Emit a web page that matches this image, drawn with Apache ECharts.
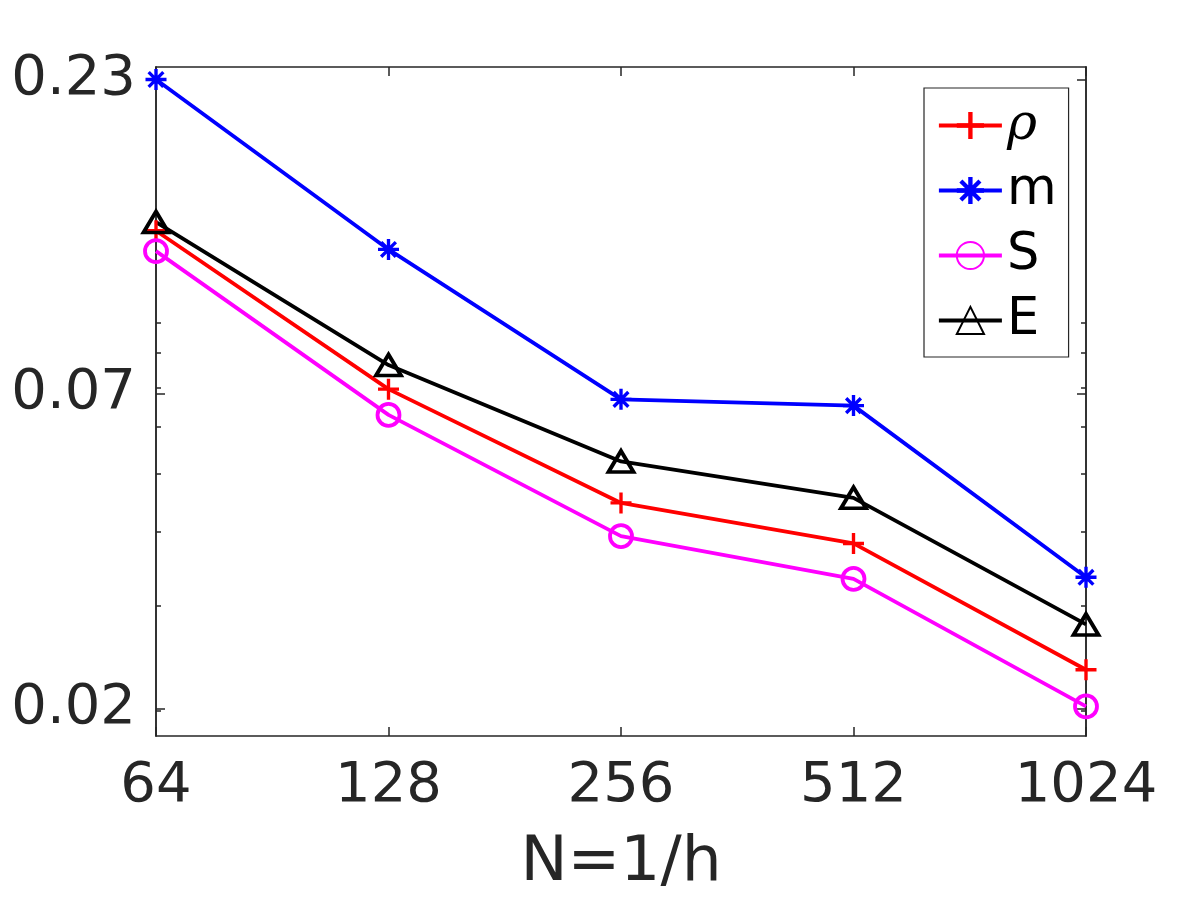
<!DOCTYPE html>
<html>
<head>
<meta charset="utf-8">
<title>error vs N</title>
<script src="https://cdn.jsdelivr.net/npm/echarts@6/dist/echarts.min.js"></script>
<style>
  html, body { margin: 0; padding: 0; background: #ffffff; }
  #chart { width: 1200px; height: 900px; }
</style>
</head>
<body>
<div id="chart"></div>
<script>
// grid sizes N = 1/h
var categories = ['64', '128', '256', '512', '1024'];

// errors
var rhoErr = [0.1285, 0.0695, 0.0447, 0.0382, 0.0234];
var mErr   = [0.2310, 0.1195, 0.0668, 0.0652, 0.0335];
var sErr   = [0.1187, 0.0629, 0.0393, 0.0333, 0.0203];
var eErr   = [0.1329, 0.0763, 0.0525, 0.0456, 0.0279];

// y ticks (log axis)
var yTicks = [0.02015, 0.0683, 0.231];
var yTickLabels = ['0.02', '0.07', '0.23'];
var yMinorTicks = [0.02, 0.03, 0.04, 0.05, 0.06, 0.07, 0.08, 0.09];
var yRange = [0.0181, 0.2425];

var axisColor = '#262626';
var font = 'DejaVu Sans';

// marker shapes, drawn as filled outlines
var plusPath = 'path://M8.4,0L11.6,0L11.6,8.4L20,8.4L20,11.6L11.6,11.6L11.6,20L8.4,20L8.4,11.6L0,11.6L0,8.4L8.4,8.4Z';
var starPath = 'path://M8.4,0L11.6,0L11.6,20L8.4,20Z' +
    'M0,8.4L20,8.4L20,11.6L0,11.6Z' +
    'M4.13,1.87L18.13,15.87L15.87,18.13L1.87,4.13Z' +
    'M15.87,1.87L18.13,4.13L4.13,18.13L1.87,15.87Z';

function nearestLabel(v) {
    var best = 0;
    for (var i = 1; i < yTicks.length; i++) {
        if (Math.abs(Math.log(yTicks[i] / v)) < Math.abs(Math.log(yTicks[best] / v))) best = i;
    }
    return yTickLabels[best];
}

function yAx(pos, custom, len, withLabels) {
    return {
        type: 'log',
        logBase: 10,
        position: pos,
        min: yRange[0],
        max: yRange[1],
        axisLine: { show: true, lineStyle: { color: axisColor, width: 1.5 } },
        axisTick: { show: true, inside: true, length: len, customValues: custom,
            lineStyle: { color: axisColor, width: 1.5 } },
        axisLabel: withLabels ? {
            show: true, customValues: yTicks, margin: 20,
            fontFamily: font, fontSize: 56, color: axisColor,
            formatter: function (v) { return nearestLabel(v); }
        } : { show: false },
        splitLine: { show: false },
        minorTick: { show: false }
    };
}

function lineSeries(name, data, color, symbol, size, hollow) {
    return {
        name: name,
        type: 'line',
        data: data,
        symbol: symbol,
        symbolSize: size,
        showAllSymbol: true,
        lineStyle: { color: color, width: 3.8 },
        itemStyle: hollow
            ? { color: 'rgba(0,0,0,0)', borderColor: color, borderWidth: 3.8 }
            : { color: color, borderWidth: 0 },
        emphasis: { disabled: true },
        z: 3
    };
}

var myChart = echarts.init(document.getElementById('chart'), null, { renderer: 'canvas' });

var option = {
    backgroundColor: '#ffffff',
    animation: false,
    grid: { left: 156, right: 114, top: 67, bottom: 162, containLabel: false },
    legend: {
        orient: 'vertical',
        left: 924,
        top: 88,
        padding: [12, 12, 11, 13],
        borderColor: axisColor,
        borderWidth: 1.2,
        backgroundColor: '#ffffff',
        itemWidth: 63,
        itemHeight: 34,
        itemGap: 14,
        lineStyle: { width: 3.8 },
        data: ['ρ', 'm', 'S', 'E'],
        formatter: function (n) { return n === 'ρ' ? '{g|ρ}' : n; },
        textStyle: {
            fontFamily: font, fontSize: 51, lineHeight: 50, color: '#000000',
            rich: { g: { fontFamily: 'DejaVu Serif', fontStyle: 'italic', fontSize: 51, lineHeight: 50, color: '#000000' } }
        }
    },
    xAxis: [{
        type: 'category',
        data: categories,
        boundaryGap: false,
        position: 'bottom',
        name: 'N=1/h',
        nameLocation: 'middle',
        nameGap: 96,
        nameTextStyle: { fontFamily: font, fontSize: 63, color: axisColor },
        axisLine: { show: true, lineStyle: { color: axisColor, width: 1.5 } },
        axisTick: { show: true, inside: true, length: 9, alignWithLabel: true,
            lineStyle: { color: axisColor, width: 1.5 } },
        axisLabel: { fontFamily: font, fontSize: 56, color: axisColor, margin: 22 },
        splitLine: { show: false }
    }, {
        type: 'category',
        data: categories,
        boundaryGap: false,
        position: 'top',
        axisLine: { show: true, lineStyle: { color: axisColor, width: 1.5 } },
        axisTick: { show: true, inside: true, length: 9, lineStyle: { color: axisColor, width: 1.5 } },
        axisLabel: { show: false },
        splitLine: { show: false }
    }],
    yAxis: [
        yAx('left', yTicks, 9, true),
        yAx('left', yMinorTicks, 5, false),
        yAx('right', yTicks, 9, false),
        yAx('right', yMinorTicks, 5, false)
    ],
    series: [
        lineSeries('ρ', rhoErr, '#ff0000', plusPath, 21, false),
        lineSeries('m', mErr, '#0000ff', starPath, 21, false),
        lineSeries('S', sErr, '#ff00ff', 'circle', 22, true),
        lineSeries('E', eErr, '#000000', 'triangle', [25, 21], true)
    ]
};

myChart.setOption(option);
window.addEventListener('resize', function () {
    myChart.resize();
});
</script>
</body>
</html>
